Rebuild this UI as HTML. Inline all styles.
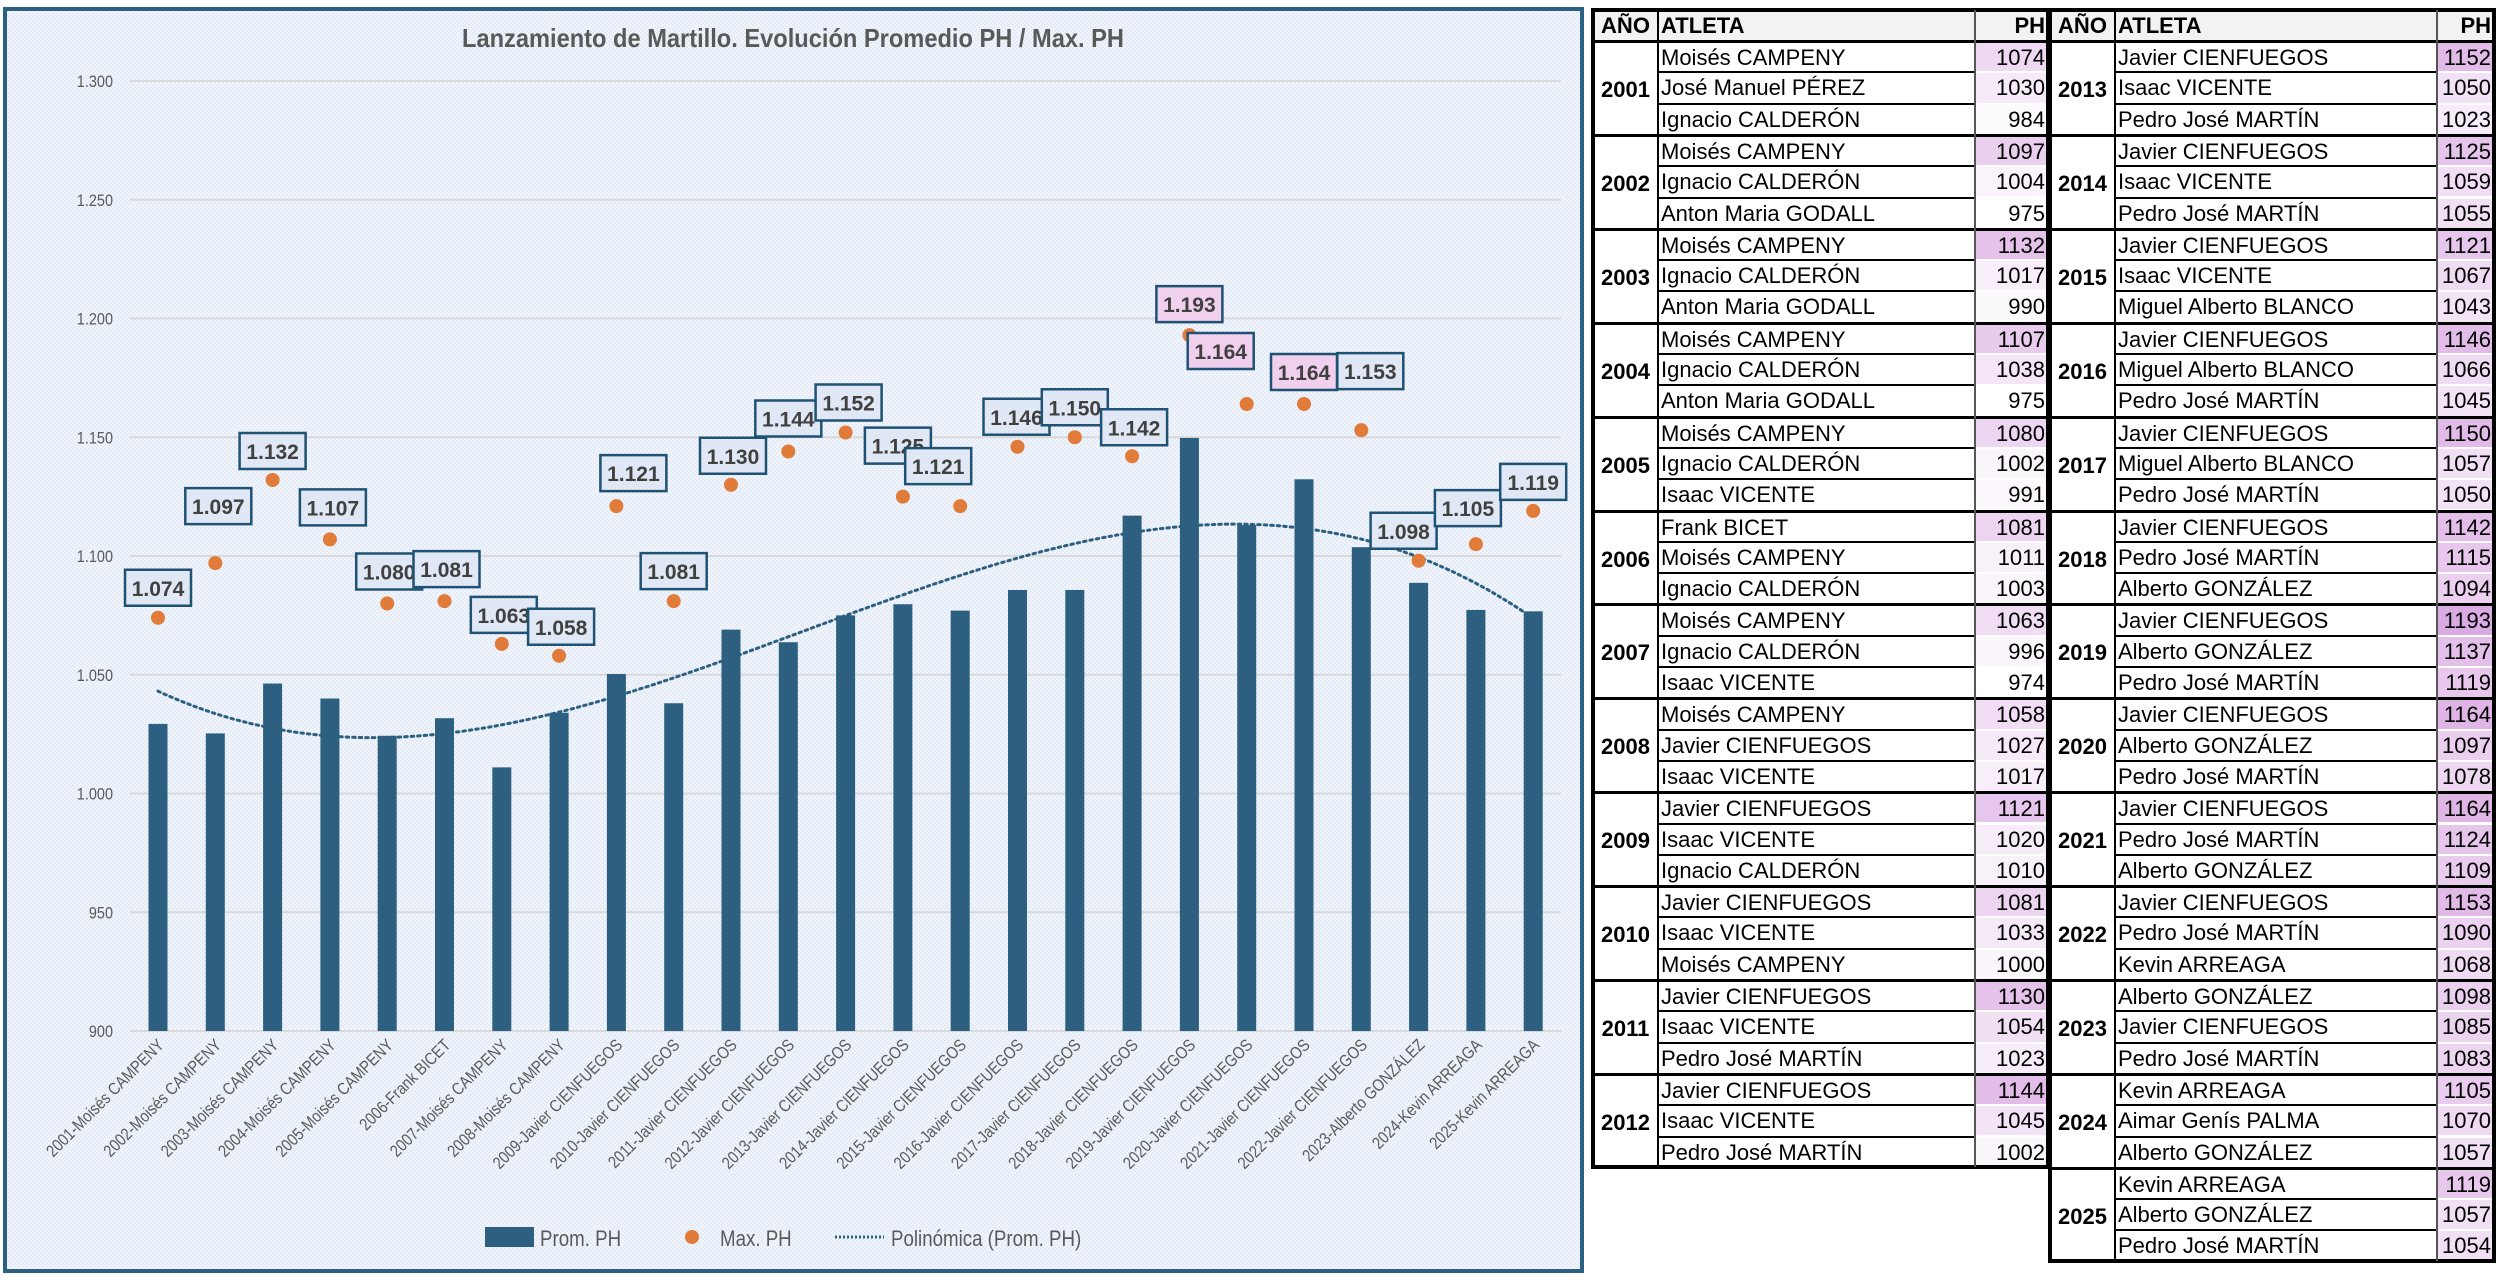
<!DOCTYPE html>
<html><head><meta charset="utf-8">
<style>
html,body{margin:0;padding:0;background:#fff;}
body{width:2500px;height:1287px;position:relative;overflow:hidden;font-family:"Liberation Sans Narrow","Liberation Sans",sans-serif;}
#chart{position:absolute;left:0;top:0;}
.tbl{position:absolute;font-family:"Liberation Sans Narrow","Liberation Sans",sans-serif;font-stretch:condensed;color:#000;}
.cell{position:absolute;box-sizing:border-box;font-size:22px;line-height:31px;white-space:nowrap;overflow:hidden;}
</style></head><body>
<svg id="chart" width="1590" height="1287" xmlns="http://www.w3.org/2000/svg">
<defs>
<pattern id="bgp" width="4" height="4" patternUnits="userSpaceOnUse"><rect width="4" height="4" fill="#f1f5fb"/><rect width="2" height="2" fill="#e3ebf6"/><rect x="2" y="2" width="2" height="2" fill="#e3ebf6"/></pattern>
</defs>
<rect x="5" y="9" width="1577" height="1262" fill="url(#bgp)" stroke="#2c5f80" stroke-width="4"/>
<text x="793" y="47" text-anchor="middle" textLength="662" lengthAdjust="spacingAndGlyphs" font-family="Liberation Sans Narrow, Liberation Sans, sans-serif" font-weight="bold" font-size="26" fill="#595959">Lanzamiento de Martillo. Evolución Promedio PH / Max. PH</text>
<g id="grid"></g><g id="bars"></g><g id="trend"></g><g id="dots"></g><g id="labels"></g><g id="xlabels"></g>
<g>
<rect x="485" y="1227" width="49" height="20" fill="#2c5f80"/>
<text class="sq" x="540" y="1246" font-size="22" fill="#595959">Prom. PH</text>
<circle cx="692" cy="1237" r="7" fill="#e07b39"/>
<text class="sq" x="720" y="1246" font-size="22" fill="#595959">Max. PH</text>
<line x1="835" y1="1237" x2="884" y2="1237" stroke="#2c5f80" stroke-width="3" stroke-dasharray="2,2"/>
<text class="sq" x="891" y="1246" font-size="22" fill="#595959">Polinómica (Prom. PH)</text>
</g>
</svg>
<div id="tables"></div>
<script>
const years=[2001,2002,2003,2004,2005,2006,2007,2008,2009,2010,2011,2012,2013,2014,2015,2016,2017,2018,2019,2020,2021,2022,2023,2024,2025];
const leaders=["Moisés CAMPENY","Moisés CAMPENY","Moisés CAMPENY","Moisés CAMPENY","Moisés CAMPENY","Frank BICET","Moisés CAMPENY","Moisés CAMPENY","Javier CIENFUEGOS","Javier CIENFUEGOS","Javier CIENFUEGOS","Javier CIENFUEGOS","Javier CIENFUEGOS","Javier CIENFUEGOS","Javier CIENFUEGOS","Javier CIENFUEGOS","Javier CIENFUEGOS","Javier CIENFUEGOS","Javier CIENFUEGOS","Javier CIENFUEGOS","Javier CIENFUEGOS","Javier CIENFUEGOS","Alberto GONZÁLEZ","Kevin ARREAGA","Kevin ARREAGA"];
const athletes=[
["Moisés CAMPENY","José Manuel PÉREZ","Ignacio CALDERÓN"],["Moisés CAMPENY","Ignacio CALDERÓN","Anton Maria GODALL"],["Moisés CAMPENY","Ignacio CALDERÓN","Anton Maria GODALL"],["Moisés CAMPENY","Ignacio CALDERÓN","Anton Maria GODALL"],["Moisés CAMPENY","Ignacio CALDERÓN","Isaac VICENTE"],["Frank BICET","Moisés CAMPENY","Ignacio CALDERÓN"],["Moisés CAMPENY","Ignacio CALDERÓN","Isaac VICENTE"],["Moisés CAMPENY","Javier CIENFUEGOS","Isaac VICENTE"],["Javier CIENFUEGOS","Isaac VICENTE","Ignacio CALDERÓN"],["Javier CIENFUEGOS","Isaac VICENTE","Moisés CAMPENY"],["Javier CIENFUEGOS","Isaac VICENTE","Pedro José MARTÍN"],["Javier CIENFUEGOS","Isaac VICENTE","Pedro José MARTÍN"],
["Javier CIENFUEGOS","Isaac VICENTE","Pedro José MARTÍN"],["Javier CIENFUEGOS","Isaac VICENTE","Pedro José MARTÍN"],["Javier CIENFUEGOS","Isaac VICENTE","Miguel Alberto BLANCO"],["Javier CIENFUEGOS","Miguel Alberto BLANCO","Pedro José MARTÍN"],["Javier CIENFUEGOS","Miguel Alberto BLANCO","Pedro José MARTÍN"],["Javier CIENFUEGOS","Pedro José MARTÍN","Alberto GONZÁLEZ"],["Javier CIENFUEGOS","Alberto GONZÁLEZ","Pedro José MARTÍN"],["Javier CIENFUEGOS","Alberto GONZÁLEZ","Pedro José MARTÍN"],["Javier CIENFUEGOS","Pedro José MARTÍN","Alberto GONZÁLEZ"],["Javier CIENFUEGOS","Pedro José MARTÍN","Kevin ARREAGA"],["Alberto GONZÁLEZ","Javier CIENFUEGOS","Pedro José MARTÍN"],["Kevin ARREAGA","Aimar Genís PALMA","Alberto GONZÁLEZ"],["Kevin ARREAGA","Alberto GONZÁLEZ","Pedro José MARTÍN"]];
const marks=[[1074,1030,984],[1097,1004,975],[1132,1017,990],[1107,1038,975],[1080,1002,991],[1081,1011,1003],[1063,996,974],[1058,1027,1017],[1121,1020,1010],[1081,1033,1000],[1130,1054,1023],[1144,1045,1002],[1152,1050,1023],[1125,1059,1055],[1121,1067,1043],[1146,1066,1045],[1150,1057,1050],[1142,1115,1094],[1193,1137,1119],[1164,1097,1078],[1164,1124,1109],[1153,1090,1068],[1098,1085,1083],[1105,1070,1057],[1119,1057,1054]];
const promPH=[1029.3,1025.3,1046.3,1040,1024.3,1031.7,1011,1034,1050.3,1038,1069,1063.7,1075,1079.7,1077,1085.7,1085.7,1117,1149.7,1113,1132.3,1103.7,1088.7,1077.3,1076.7];
const maxPH=[1074,1097,1132,1107,1080,1081,1063,1058,1121,1081,1130,1144,1152,1125,1121,1146,1150,1142,1193,1164,1164,1153,1098,1105,1119];
const yTicks=[900,950,1000,1050,1100,1150,1200,1250,1300];
const yTickLabels=["900","950","1.000","1.050","1.100","1.150","1.200","1.250","1.300"];
const pinkLabels=[2019,2020,2021];
</script>
<script>
const NS="http://www.w3.org/2000/svg";
const yMin=900,yMax=1300,py0=1031,py1=81;
function yS(v){return py0-(v-yMin)*(py0-py1)/(yMax-yMin);}
function xS(i){return 158+i*57.3;}
function mk(tag,attrs,parent){const e=document.createElementNS(NS,tag);for(const k in attrs)e.setAttribute(k,attrs[k]);parent.appendChild(e);return e;}
const g=id=>document.getElementById(id);
function squeeze(t,f){const L=t.getComputedTextLength();if(L>0){t.setAttribute('textLength',(L*f).toFixed(1));t.setAttribute('lengthAdjust','spacingAndGlyphs');}}
yTicks.forEach((t,i)=>{
  const l=mk('line',{x1:130,x2:1561,y1:yS(t),y2:yS(t),stroke:'#d9d9d9','stroke-width':2},g('grid'));
  
  
  const tx=mk('text',{x:113,y:yS(t)+6,'text-anchor':'end','font-size':17,fill:'#595959'},g('grid'));
  tx.textContent=yTickLabels[i];
  
  
  squeeze(tx,0.85);
});
promPH.forEach((v,i)=>{
  const b=mk('rect',{x:xS(i)-9.5,y:yS(v),width:19,height:yS(yMin)-yS(v),fill:'#2c5f80'},g('bars'));
  
  
});
(function(){
  const n=promPH.length,deg=3,M=[],R=[];
  for(let a=0;a<=deg;a++){M.push([]);for(let b=0;b<=deg;b++){let s=0;for(let i=0;i<n;i++)s+=Math.pow(i+1,a+b);M[a].push(s);}let r=0;for(let i=0;i<n;i++)r+=promPH[i]*Math.pow(i+1,a);R.push(r);}
  for(let c=0;c<=deg;c++){for(let r=c+1;r<=deg;r++){const f=M[r][c]/M[c][c];for(let k=c;k<=deg;k++)M[r][k]-=f*M[c][k];R[r]-=f*R[c];}}
  const co=new Array(deg+1);for(let r=deg;r>=0;r--){let s=R[r];for(let k=r+1;k<=deg;k++)s-=M[r][k]*co[k];co[r]=s/M[r][r];}
  let d='';for(let t=0;t<=240;t++){const xx=1+t*(n-1)/240;let v=0;for(let k=0;k<=deg;k++)v+=co[k]*Math.pow(xx,k);d+=(t?'L':'M')+xS(xx-1).toFixed(1)+','+yS(v).toFixed(1);}
  const p=mk('path',{d:d,fill:'none',stroke:'#2c5f80','stroke-width':3,'stroke-dasharray':'2.5,4','stroke-linecap':'round'},g('trend'));
  
  
})();
const offs=[[0,-30],[3,-57],[0,-29],[3,-32],[2,-32],[2,-32],[2,-29],[2,-29],[17,-33],[0,-30],[2,-29],[0,-33],[3,-30],[-5,-51],[-22,-40],[-1,-30],[0,-30],[2,-29],[0,-31],[-26,-53],[0,-32],[9,-59],[-15,-30],[-8,-36],[0,-29]];
maxPH.forEach((v,i)=>{
  const c=mk('circle',{cx:xS(i),cy:yS(v),r:7,fill:'#e07b39'},g('dots'));
  
  
});
maxPH.forEach((v,i)=>{
  const cx=xS(i)+offs[i][0],cy=yS(v)+offs[i][1];
  const pink=pinkLabels.includes(years[i]);
  const r=mk('rect',{x:cx-33,y:cy-18,width:66,height:36,fill:pink?'#f0d0ec':'#dfe8f4',stroke:'#1f5273','stroke-width':2.5},g('labels'));
  
  
  const t=mk('text',{x:cx,y:cy+8,'text-anchor':'middle','font-size':21,'font-weight':'bold','font-family':'Liberation Sans, sans-serif',fill:'#404040'},g('labels'));
  t.textContent=(v/1000).toFixed(3);
  
  
});
years.forEach((y,i)=>{
  const x=xS(i)+7,yy=1046;
  const t=mk('text',{x:x,y:yy,'text-anchor':'end','font-size':17,fill:'#595959',transform:'rotate(-45 '+x+' '+yy+')'},g('xlabels'));
  t.textContent=y+'-'+leaders[i];
  
  
  squeeze(t,0.85);
});
document.querySelectorAll('text.sq').forEach(t=>squeeze(t,0.85));
function pink(v){const t=Math.max(0,Math.min(1,(v-974)/(1193-974)));const r=Math.round(255-t*37),gg=Math.round(255-t*85),b=Math.round(255-t*29);return 'rgb('+r+','+gg+','+b+')';}
const host=g('tables');
function div(style,text,parent){const d=document.createElement('div');d.className='cell';d.style.cssText=style;if(text!=null)d.textContent=text;parent.appendChild(d);return d;}
function buildTable(x0,xa,xb,x1,startIdx,count,name){
  const T=document.createElement('div');T.className='tbl';T.style.cssText='left:0;top:0;';host.appendChild(T);
  
  
  const top=10,hh=30,rh=31.3;
  const hdrBg='background:#f2f2f2;font-weight:bold;';
  let h=div(`left:${x0}px;top:${top}px;width:${xa-x0}px;height:${hh}px;${hdrBg}text-align:center;`, 'AÑO',T);
  
  h=div(`left:${xa}px;top:${top}px;width:${xb-xa}px;height:${hh}px;${hdrBg}padding-left:3px;`, 'ATLETA',T);
  
  h=div(`left:${xb}px;top:${top}px;width:${x1-xb}px;height:${hh}px;${hdrBg}text-align:right;padding-right:3px;`, 'PH',T);
  
  for(let k=0;k<count;k++){
    const yi=startIdx+k,gy=top+hh+k*3*rh;
    const yc=div(`left:${x0}px;top:${gy}px;width:${xa-x0}px;height:${3*rh}px;line-height:${3*rh}px;font-weight:bold;text-align:center;border-top:3px solid #000;`,String(years[yi]),T);
    
    
    for(let j=0;j<3;j++){
      const ry=gy+j*rh;
      const bt=j==0?'3px solid #000':'2px solid #000';
      const a=div(`left:${xa}px;top:${ry}px;width:${xb-xa}px;height:${rh}px;padding-left:3px;border-top:${bt};line-height:${rh-2}px;`,athletes[yi][j],T);
      
      
      const p=div(`left:${xb}px;top:${ry}px;width:${x1-xb}px;height:${rh}px;text-align:right;padding-right:3px;border-top:${j==0?'3px solid #000':'2px solid #fff'};background:${pink(marks[yi][j])};line-height:${rh-2}px;`,String(marks[yi][j]),T);
      
      
    }
  }
  const bottom=top+hh+count*3*rh;
  const fr=div(`left:${x0-2}px;top:${top-2}px;width:${x1-x0+4}px;height:${bottom-top+4}px;border:4px solid #000;`,null,T);
  
  const v1=div(`left:${xa-1}px;top:${top}px;width:2px;height:${bottom-top}px;background:#000;`,null,T);
  
  const v2=div(`left:${xb-1}px;top:${top}px;width:2px;height:${bottom-top}px;background:#555;`,null,T);
  
}
buildTable(1593,1658,1975,2048,0,12,'results-table-2001-2012');
buildTable(2050,2115,2437,2494,12,13,'results-table-2013-2025');
</script>
</body></html>
